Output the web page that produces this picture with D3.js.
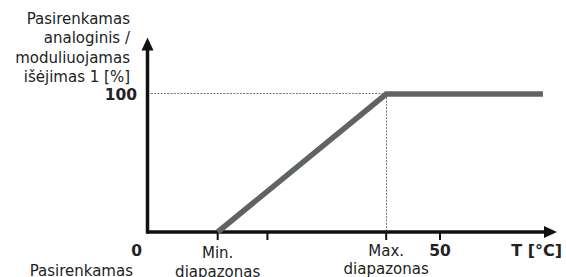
<!DOCTYPE html>
<html>
<head>
<meta charset="utf-8">
<script src="https://cdn.jsdelivr.net/npm/d3@7"></script>
<style>
  body { margin: 0; background: #fff; }
  text { font-family: "DejaVu Sans", Verdana, sans-serif; fill: #222; }
</style>
</head>
<body>
<svg width="566" height="277"></svg>
<script>
// x values in °C (schematic), y values in %
var curveT = [12, 40.8, 67.6];
var curveOut = [0, 100, 100];
var xTicks = [12, 20.5, 40.8, 50];
var xTickLabels = [["Min.", "diapazonas"], null, ["Max.", "diapazonas"], ["50"]];
var yLabelLines = ["Pasirenkamas", "analoginis /", "moduliuojamas", "išėjimas 1 [%]"];
var xLabelLines = ["0", "Pasirenkamas"];

var svg = d3.select("svg"),
    width = +svg.attr("width"),
    height = +svg.attr("height");

var x = d3.scaleLinear()
    .domain([0, 50])
    .range([147.5, 440]);
var y = d3.scaleLinear()
    .domain([0, 100])
    .range([232, 94]);

var xEnd = 70, yEnd = 141;

// dotted guides
svg.append("line")
    .attr("x1", x(0)).attr("x2", x(curveT[1]))
    .attr("y1", y(100) - 0.5).attr("y2", y(100) - 0.5)
    .attr("stroke", "#777").attr("stroke-dasharray", "2,1.3");
svg.append("line")
    .attr("x1", Math.round(x(curveT[1])) + 0.5).attr("x2", Math.round(x(curveT[1])) + 0.5)
    .attr("y1", y(100)).attr("y2", y(0))
    .attr("stroke", "#777").attr("stroke-dasharray", "2,1.3");

// axes
svg.append("line")
    .attr("x1", x(0)).attr("x2", x(xEnd) - 8)
    .attr("y1", y(0)).attr("y2", y(0))
    .attr("stroke", "#111").attr("stroke-width", 3.5);
svg.append("path")
    .attr("d", "M" + x(xEnd) + "," + y(0) + "l-13,-6v12z")
    .attr("fill", "#111");
svg.append("line")
    .attr("x1", x(0)).attr("x2", x(0))
    .attr("y1", y(0) + 1.75).attr("y2", y(yEnd) + 8)
    .attr("stroke", "#111").attr("stroke-width", 3.5);
svg.append("path")
    .attr("d", "M" + x(0) + "," + y(yEnd) + "l-6,13h12z")
    .attr("fill", "#111");

// ticks
svg.selectAll(".tick")
  .data(xTicks)
  .enter().append("line")
    .attr("x1", function(d) { return x(d); })
    .attr("x2", function(d) { return x(d); })
    .attr("y1", y(0)).attr("y2", y(0) + 8)
    .attr("stroke", "#111").attr("stroke-width", 2);

// curve
svg.append("path")
    .datum(d3.zip(curveT, curveOut))
    .attr("fill", "none")
    .attr("stroke", "#5f6462")
    .attr("stroke-width", 5.5)
    .attr("stroke-linejoin", "miter")
    .attr("d", d3.line()
        .x(function(d) { return x(d[0]); })
        .y(function(d) { return y(d[1]); }));

// y label
svg.append("text")
    .attr("text-anchor", "end")
    .attr("font-size", 15)
  .selectAll("tspan")
  .data(yLabelLines)
  .enter().append("tspan")
    .attr("x", 130)
    .attr("y", function(d, i) { return 24 + i * 19.3; })
    .text(function(d) { return d; });

svg.append("text")
    .attr("x", 137).attr("y", y(100) + 6)
    .attr("text-anchor", "end")
    .attr("font-size", 15.5).attr("font-weight", "bold")
    .text("100");

// x labels
svg.append("text")
    .attr("x", 142).attr("y", 256)
    .attr("text-anchor", "end")
    .attr("font-size", 15.5).attr("font-weight", "bold")
    .text(xLabelLines[0]);
svg.append("text")
    .attr("x", 133).attr("y", 276)
    .attr("text-anchor", "end")
    .attr("font-size", 15)
    .text(xLabelLines[1]);

var tl = svg.selectAll(".tlab")
  .data(xTicks.map(function(t, i) { return {t: t, lines: xTickLabels[i], i: i}; })
    .filter(function(d) { return d.lines; }))
  .enter().append("text")
    .attr("text-anchor", "middle")
    .attr("font-size", function(d) { return d.lines.length === 1 ? 15.5 : 15; })
    .attr("font-weight", function(d) { return d.lines.length === 1 ? "bold" : null; });
tl.selectAll("tspan")
  .data(function(d) { return d.lines.map(function(l, j) { return {d: d, l: l, j: j}; }); })
  .enter().append("tspan")
    .attr("x", function(e) { return x(e.d.t); })
    .attr("y", function(e) { return (e.d.i === 0 ? 258 : 256) + e.j * (e.d.i === 0 ? 19 : 17.5); })
    .text(function(e) { return e.l; });

svg.append("text")
    .attr("x", 562).attr("y", 256)
    .attr("text-anchor", "end")
    .attr("font-size", 16).attr("font-weight", "bold")
    .text("T [°C]");
</script>
</body>
</html>
